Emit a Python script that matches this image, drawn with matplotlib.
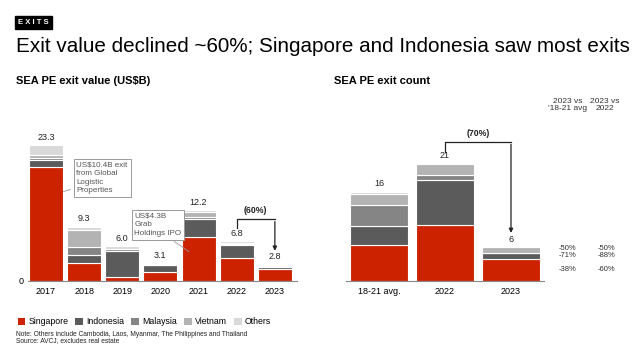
import matplotlib.pyplot as plt
from matplotlib.patches import Patch

plt.rcParams['font.family'] = ['Liberation Sans', 'DejaVu Sans']

countries = ['Singapore', 'Indonesia', 'Malaysia', 'Vietnam', 'Others']
colours = ['#cc2200', '#5b5b5b', '#858585', '#b3b3b3', '#d9d9d9']

# exit value (US$B)
years = ['2017', '2018', '2019', '2020', '2021', '2022', '2023']
val_singapore = [19.6, 3.1, 0.6, 1.5, 7.6, 3.9, 2.1]
val_indonesia = [1.2, 1.3, 4.6, 1.2, 3.0, 2.2, 0.3]
val_malaysia = [0.3, 1.4, 0.2, 0.1, 0.3, 0.2, 0.1]
val_vietnam = [0.4, 2.9, 0.1, 0.1, 1.0, 0.2, 0.2]
val_others = [1.8, 0.6, 0.5, 0.2, 0.3, 0.3, 0.1]
val_labels = ['23.3', '9.3', '6.0', '3.1', '12.2', '6.8', '2.8']

# exit count
periods = ['18-21 avg.', '2022', '2023']
cnt_singapore = [6.5, 10, 4]
cnt_indonesia = [3.4, 8, 1]
cnt_malaysia = [3.7, 1, 0]
cnt_vietnam = [2.0, 2, 1]
cnt_others = [0.4, 0, 0]
cnt_labels = ['16', '21', '6']

chg_vs_avg = ['-38%', '-71%', '', '-50%']
chg_vs_2022 = ['-60%', '-88%', '', '-50%']

fig = plt.figure(figsize=(6.4, 3.47), dpi=100)

# header
fig.text(18/640, 1-22.5/347, 'E X I T S', fontsize=5.5, fontweight='bold', color='white',
         va='center', ha='left', bbox=dict(facecolor='black', edgecolor='black', pad=2.2))
fig.text(16/640, 1-46/347, 'Exit value declined ~60%; Singapore and Indonesia saw most exits',
         fontsize=14.85, va='center', ha='left')
fig.text(16/640, 1-81/347, 'SEA PE exit value (US$B)', fontsize=8, fontweight='bold', va='center')
fig.text(334/640, 1-81/347, 'SEA PE exit count', fontsize=8, fontweight='bold', va='center')


def stack(ax, series, labels_top, gap):
    n = len(series[0])
    xs = range(n)
    bottom = [0] * n
    for s, c in zip(series, colours):
        ax.bar(xs, s, bottom=bottom, width=0.89, color=c, edgecolor='white', linewidth=0.8)
        bottom = [b + v for b, v in zip(bottom, s)]
    for i in xs:
        ax.text(i, bottom[i] + gap, labels_top[i], ha='center', va='bottom', fontsize=6.5, color='#222222')
    return bottom


# ---- left chart
ax1 = fig.add_axes([28/640, 66/347, 269/640, 151.8/347])
tot1 = stack(ax1, [val_singapore, val_indonesia, val_malaysia, val_vietnam, val_others], val_labels, 0.55)
ax1.set_xlim(-0.47, 6.58)
ax1.set_ylim(0, 26)
ax1.set_xticks(range(len(years)))
ax1.set_xticklabels(years, fontsize=6.5)
ax1.set_yticks([0])
ax1.set_yticklabels(['0'], fontsize=6.5)
ax1.tick_params(axis='x', length=0, pad=4)
ax1.tick_params(axis='y', length=0, pad=3)
for s in ['top', 'right', 'left']:
    ax1.spines[s].set_visible(False)
ax1.spines['bottom'].set_color('#888888')

box = dict(boxstyle='square,pad=0.35', facecolor='white', edgecolor='#999999', linewidth=0.7)
ax1.annotate('US$10.4B exit\nfrom Global\nLogistic\nProperties', xy=(0.39, 15.2), xytext=(0.8, 20.4),
             fontsize=5.8, color='#555555', va='top', ha='left', linespacing=1.3, bbox=box,
             arrowprops=dict(arrowstyle='-', color='#999999', lw=0.6, relpos=(0, 0.2)))
ax1.annotate('US$4.3B\nGrab\nHoldings IPO', xy=(3.81, 4.74), xytext=(2.32, 11.7),
             fontsize=5.8, color='#555555', va='top', ha='left', linespacing=1.3, bbox=box,
             arrowprops=dict(arrowstyle='-', color='#999999', lw=0.6, relpos=(0.7, 0)))

# (60%) connector
ax1.plot([5, 5, 6], [tot1[5] + 2.3, tot1[5] + 3.8, tot1[5] + 3.8], color='#222222', lw=0.9)
ax1.annotate('', xy=(6, tot1[6] + 1.9), xytext=(6, tot1[5] + 3.85),
             arrowprops=dict(arrowstyle='-|>', color='#222222', lw=0.9, mutation_scale=6))
ax1.text(5.5, tot1[5] + 4.5, '(60%)', ha='center', va='bottom', fontsize=6.3, fontweight='bold', color='#222222')

# ---- right chart
ax2 = fig.add_axes([346/640, 66/347, 198/640, 151/347])
tot2 = stack(ax2, [cnt_singapore, cnt_indonesia, cnt_malaysia, cnt_vietnam, cnt_others], cnt_labels, 0.6)
ax2.set_xlim(-0.5, 2.5)
ax2.set_ylim(0, 27)
ax2.set_xticks(range(len(periods)))
ax2.set_xticklabels(periods, fontsize=6.5)
ax2.set_yticks([])
ax2.tick_params(length=0, pad=4)
for s in ['top', 'right', 'left']:
    ax2.spines[s].set_visible(False)
ax2.spines['bottom'].set_color('#888888')

ax2.plot([1, 1, 2], [tot2[1] + 2.1, tot2[1] + 3.9, tot2[1] + 3.9], color='#222222', lw=0.9)
ax2.annotate('', xy=(2, tot2[2] + 2.1), xytext=(2, tot2[1] + 3.95),
             arrowprops=dict(arrowstyle='-|>', color='#222222', lw=0.9, mutation_scale=6))
ax2.text(1.5, tot2[1] + 4.6, '(70%)', ha='center', va='bottom', fontsize=6.3, fontweight='bold', color='#222222')

# change columns next to the 2023 bar
base = 0
segs = [cnt_singapore[2], cnt_indonesia[2], cnt_malaysia[2], cnt_vietnam[2]]
for seg, a, b in zip(segs, chg_vs_avg, chg_vs_2022):
    y = base + seg * (0.85 if b == chg_vs_2022[-1] else 0.5)
    if a:
        ax2.text(2.86, y, a, ha='center', va='center', fontsize=5.5, color='#333333', clip_on=False)
        ax2.text(3.44, y, b, ha='center', va='center', fontsize=5.5, color='#333333', clip_on=False)
    base += seg

fig.text(568/640, 1-105/347, "2023 vs\n'18-21 avg", ha='center', va='center', fontsize=6, color='#333333', linespacing=1.1)
fig.text(605/640, 1-105/347, '2023 vs\n2022', ha='center', va='center', fontsize=6, color='#333333', linespacing=1.1)

# legend + notes
handles = [Patch(facecolor=c, edgecolor='none', label=n) for n, c in zip(countries, colours)]
fig.legend(handles=handles, loc='center left', bbox_to_anchor=(14/640, 1-322/347), ncol=5, frameon=False,
           fontsize=6.3, handlelength=0.9, handleheight=0.9, handletextpad=0.35, columnspacing=0.8,
           borderaxespad=0)
fig.text(16/640, 1-334/347, 'Note: Others include Cambodia, Laos, Myanmar, The Philippines and Thailand',
         fontsize=4.8, va='center', color='#222222')
fig.text(16/640, 1-341/347, 'Source: AVCJ, excludes real estate', fontsize=4.8, va='center', color='#222222')

fig.savefig('out.png', dpi=100)
